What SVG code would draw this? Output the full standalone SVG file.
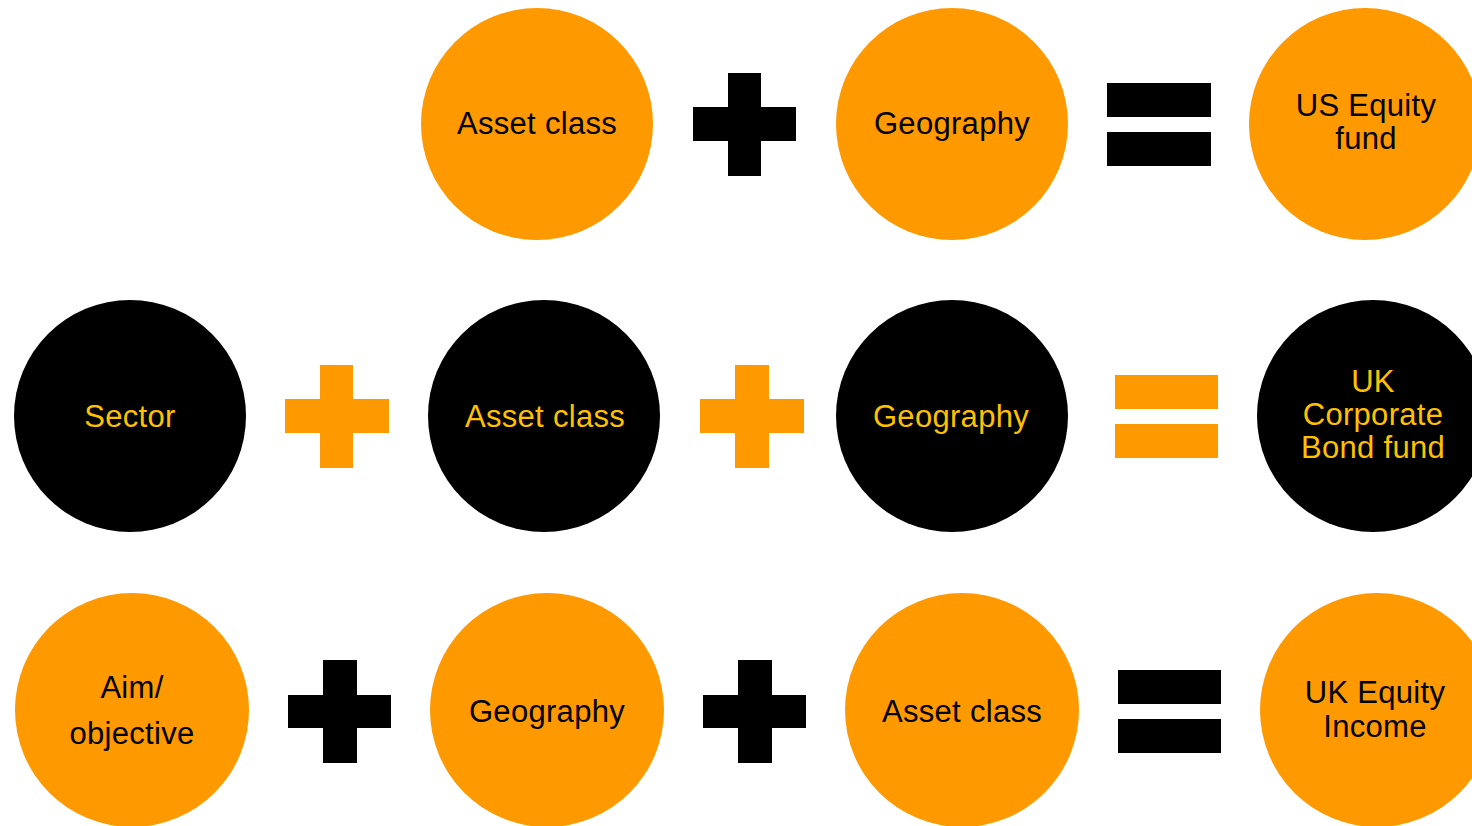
<svg xmlns="http://www.w3.org/2000/svg" width="1472" height="826" viewBox="0 0 1472 826">
<style>
.o{fill:#FF9900}
.b{fill:#000000}
text{font-family:"Liberation Sans",Arial,sans-serif;font-size:31px;text-anchor:middle;letter-spacing:0.3px}
.tb{fill:#000000}
.ty{fill:#FFC000}
</style>
<rect width="1472" height="826" fill="#ffffff"/>
<g id="row1">
<g id="n-asset1"><circle class="o" cx="537" cy="124" r="116"/><text class="tb" x="537" y="134">Asset class</text></g>
<g id="op-plus1" class="b"><rect x="728" y="73" width="33" height="103"/><rect x="693" y="107" width="103" height="34"/></g>
<g id="n-geo1"><circle class="o" cx="952" cy="124" r="116"/><text class="tb" x="952" y="134">Geography</text></g>
<g id="op-eq1" class="b"><rect x="1107" y="83" width="104" height="34"/><rect x="1107" y="132" width="104" height="34"/></g>
<g id="n-us"><circle class="o" cx="1365" cy="124" r="116"/><text class="tb" x="1366" y="116">US Equity</text><text class="tb" x="1366" y="149">fund</text></g>
</g>
<g id="row2">
<g id="n-sector"><circle class="b" cx="130" cy="416" r="116"/><text class="ty" x="130" y="427">Sector</text></g>
<g id="op-plus2" class="o"><rect x="320" y="365" width="33" height="103"/><rect x="285" y="399" width="104" height="34"/></g>
<g id="n-asset2"><circle class="b" cx="544" cy="416" r="116"/><text class="ty" x="545" y="427">Asset class</text></g>
<g id="op-plus3" class="o"><rect x="735" y="365" width="34" height="103"/><rect x="700" y="399" width="104" height="34"/></g>
<g id="n-geo2"><circle class="b" cx="952" cy="416" r="116"/><text class="ty" x="951" y="427">Geography</text></g>
<g id="op-eq2" class="o"><rect x="1115" y="375" width="103" height="34"/><rect x="1115" y="424" width="103" height="34"/></g>
<g id="n-ukcorp"><circle class="b" cx="1373" cy="416" r="116"/><text class="ty" x="1373" y="392">UK</text><text class="ty" x="1373" y="425">Corporate</text><text class="ty" x="1373" y="458">Bond fund</text></g>
</g>
<g id="row3">
<g id="n-aim"><circle class="o" cx="132" cy="710" r="117"/><text class="tb" x="132" y="698">Aim/</text><text class="tb" x="132" y="744">objective</text></g>
<g id="op-plus4" class="b"><rect x="323" y="660" width="34" height="103"/><rect x="288" y="695" width="103" height="33"/></g>
<g id="n-geo3"><circle class="o" cx="547" cy="710" r="117"/><text class="tb" x="547" y="722">Geography</text></g>
<g id="op-plus5" class="b"><rect x="738" y="660" width="34" height="103"/><rect x="703" y="695" width="103" height="33"/></g>
<g id="n-asset3"><circle class="o" cx="962" cy="710" r="117"/><text class="tb" x="962" y="722">Asset class</text></g>
<g id="op-eq3" class="b"><rect x="1118" y="670" width="103" height="34"/><rect x="1118" y="719" width="103" height="34"/></g>
<g id="n-ukinc"><circle class="o" cx="1377" cy="710" r="117"/><text class="tb" x="1375" y="703">UK Equity</text><text class="tb" x="1375" y="737">Income</text></g>
</g>
<g id="connectors"/>
</svg>
